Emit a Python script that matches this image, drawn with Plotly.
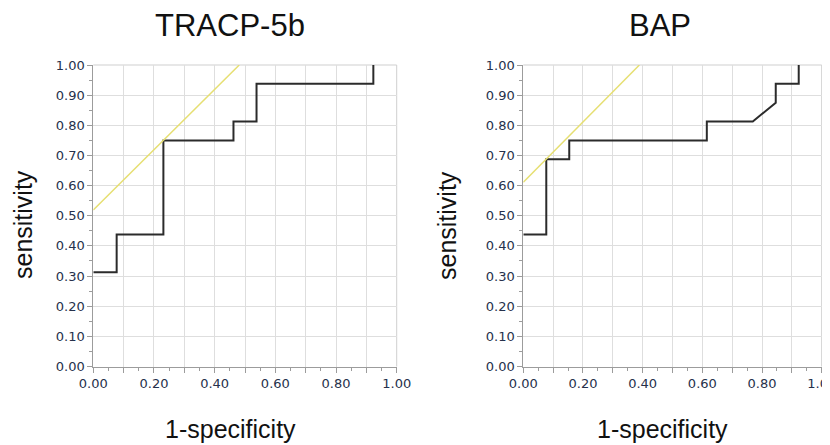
import plotly.graph_objects as go

# ---- data ----
titles = ["TRACP-5b", "BAP"]
x_label = "1-specificity"
y_label = "sensitivity"

tracp_fpr = [0.0, 0.077, 0.077, 0.231, 0.231, 0.462, 0.462, 0.538, 0.538, 0.923, 0.923]
tracp_tpr = [0.3125, 0.3125, 0.4375, 0.4375, 0.75, 0.75, 0.8125, 0.8125, 0.9375, 0.9375, 1.0]
tracp_ref_x = [0.0, 0.481]
tracp_ref_y = [0.519, 1.0]

bap_fpr = [0.0, 0.077, 0.077, 0.154, 0.154, 0.615, 0.615, 0.769, 0.846, 0.846, 0.923, 0.923]
bap_tpr = [0.4375, 0.4375, 0.6875, 0.6875, 0.75, 0.75, 0.8125, 0.8125, 0.875, 0.9375, 0.9375, 1.0]
bap_ref_x = [0.0, 0.389]
bap_ref_y = [0.611, 1.0]

x_tickvals = [0.0, 0.1, 0.2, 0.3, 0.4, 0.5, 0.6, 0.7, 0.8, 0.9, 1.0]
x_ticktext = ["0.00", "", "0.20", "", "0.40", "", "0.60", "", "0.80", "", "1.00"]
y_tickvals = [0.0, 0.1, 0.2, 0.3, 0.4, 0.5, 0.6, 0.7, 0.8, 0.9, 1.0]
y_ticktext = ["0.00", "0.10", "0.20", "0.30", "0.40", "0.50", "0.60", "0.70", "0.80", "0.90", "1.00"]

# ---- styles / geometry ----
PAGE_OFF = 8            # default body margin of the html page
W, H = 830 - PAGE_OFF, 445 - PAGE_OFF
ROC_COLOR = "#2b2b2b"
REF_COLOR = "#e6df72"
GRID = "#dedede"
AXIS = "#9c9c9c"
FRAME = "#cfcfcf"
TICKFONT = dict(family="DejaVu Sans", size=13, color="#26314b")
LABELFONT = "Liberation Sans, Arial, sans-serif"


def px(xp):
    return (xp - PAGE_OFF) / W


def py(yp):
    return 1 - (yp - PAGE_OFF) / H


fig = go.Figure()
fig.add_trace(go.Scatter(x=tracp_fpr, y=tracp_tpr, mode="lines",
                         line=dict(color=ROC_COLOR, width=2), xaxis="x", yaxis="y", showlegend=False))
fig.add_trace(go.Scatter(x=tracp_ref_x, y=tracp_ref_y, mode="lines",
                         line=dict(color=REF_COLOR, width=1.5), xaxis="x", yaxis="y", showlegend=False))
fig.add_trace(go.Scatter(x=bap_fpr, y=bap_tpr, mode="lines",
                         line=dict(color=ROC_COLOR, width=2), xaxis="x2", yaxis="y2", showlegend=False))
fig.add_trace(go.Scatter(x=bap_ref_x, y=bap_ref_y, mode="lines",
                         line=dict(color=REF_COLOR, width=1.5), xaxis="x2", yaxis="y2", showlegend=False))

ydom = [py(366.5), py(65)]
xdoms = [[px(93.3), px(396.7)], [px(523.3), px(821.7)]]


def xaxis_cfg(dom, anchor):
    return dict(domain=dom, anchor=anchor, range=[0, 1], tickmode="array",
                tickvals=x_tickvals, ticktext=x_ticktext, showgrid=True, gridcolor=GRID,
                gridwidth=1, zeroline=False, showline=True, linecolor=AXIS, linewidth=1,
                ticks="outside", ticklen=5, tickcolor=AXIS, tickfont=TICKFONT,
                ticklabeloverflow="allow",
                minor=dict(dtick=0.05, tick0=0, ticks="outside", ticklen=3,
                           tickcolor=AXIS, showgrid=False),
                automargin=False, fixedrange=True)


def yaxis_cfg(dom, anchor):
    return dict(domain=dom, anchor=anchor, range=[0, 1], tickmode="array",
                tickvals=y_tickvals, ticktext=y_ticktext, showgrid=True, gridcolor=GRID,
                gridwidth=1, zeroline=False, showline=True, linecolor=AXIS, linewidth=1,
                ticks="outside", ticklen=5, tickcolor=AXIS, tickfont=TICKFONT,
                minor=dict(dtick=0.05, tick0=0, ticks="outside", ticklen=3,
                           tickcolor=AXIS, showgrid=False),
                automargin=False, fixedrange=True)


shapes = []
for xr, yr in (("x", "y"), ("x2", "y2")):
    # light top and right frame
    shapes.append(dict(type="line", xref=f"{xr} domain", yref=f"{yr} domain",
                       x0=0, x1=1, y0=1, y1=1, line=dict(color=FRAME, width=1), layer="below"))
    shapes.append(dict(type="line", xref=f"{xr} domain", yref=f"{yr} domain",
                       x0=1, x1=1, y0=0, y1=1, line=dict(color=FRAME, width=1), layer="below"))

annotations = []
title_x = [230.5, 659.5]
xlab_x = [230.5, 662]
for i in range(2):
    annotations.append(dict(text=titles[i], xref="paper", yref="paper",
                            x=px(title_x[i]), y=py(26), xanchor="center", yanchor="middle",
                            showarrow=False, font=dict(family=LABELFONT, size=31, color="#111111")))
    annotations.append(dict(text=x_label, xref="paper", yref="paper",
                            x=px(xlab_x[i]), y=py(429), xanchor="center", yanchor="middle",
                            showarrow=False, font=dict(family=LABELFONT, size=25, color="#111111")))
# y-axis labels (rotated)
annotations.append(dict(text=y_label, xref="paper", yref="paper", textangle=-90,
                        x=0, y=py(225), xanchor="left", yanchor="middle", borderpad=0,
                        showarrow=False, font=dict(family=LABELFONT, size=25, color="#111111")))
annotations.append(dict(text=y_label, xref="paper", yref="paper", textangle=-90,
                        x=px(447), y=py(225), xanchor="center", yanchor="middle", borderpad=0,
                        showarrow=False, font=dict(family=LABELFONT, size=25, color="#111111")))

fig.update_layout(
    width=W, height=H, margin=dict(l=0, r=0, t=0, b=0, autoexpand=False),
    paper_bgcolor="white", plot_bgcolor="white",
    xaxis=xaxis_cfg(xdoms[0], "y"), yaxis=yaxis_cfg(ydom, "x"),
    xaxis2=xaxis_cfg(xdoms[1], "y2"), yaxis2=yaxis_cfg(ydom, "x2"),
    shapes=shapes, annotations=annotations, showlegend=False,
)

fig.write_html("out.html", config={"displayModeBar": False})
